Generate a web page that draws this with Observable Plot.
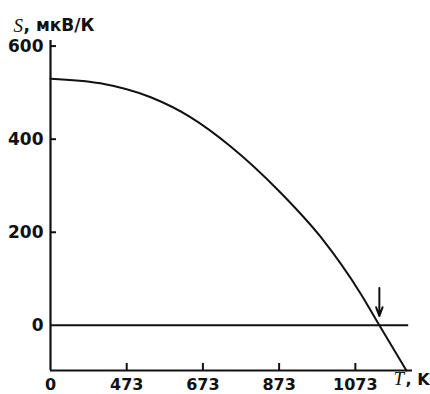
<!DOCTYPE html>
<html><head><meta charset="utf-8">
<script src="https://cdn.jsdelivr.net/npm/d3@7"></script>
<script src="https://cdn.jsdelivr.net/npm/@observablehq/plot@0.6"></script>
<style>body{margin:0;background:#fff} svg{display:block}</style>
</head><body><div id="chart"></div>
<script>
// Seebeck coefficient S (µV/K) vs temperature T (K)
const temperatureK = [273, 404, 536, 641, 745, 877, 982, 1087, 1136, 1207];
const seebeck = [530, 520, 490, 447, 385, 285, 190, 68, 0, -97];
const xTickValues = [273, 473, 673, 873, 1073];
const xTickLabels = ["0", "473", "673", "873", "1073"];
const xInnerTicks = [473, 673, 873, 1073];
const yTickValues = [0, 200, 400, 600];
const yInnerTicks = [200, 400, 600];
const xDomain = [273, 1223];
const yDomain = [-97, 612];
const zeroLineEnd = [1213];
const arrowT = [1136];
const arrowFromTo = [80, 20];

const data = temperatureK.map((t, i) => ({t, s: seebeck[i]}));
const W = 430, H = 394, mL = 50, mR = 18, mT = 40, mB = 24;
const ink = "#111";
const sans = "DejaVu Sans";

const chart = Plot.plot({
  width: W, height: H,
  marginLeft: mL, marginRight: mR, marginTop: mT, marginBottom: mB,
  style: {fontFamily: sans, fontSize: "17px", fontWeight: "bold", color: ink, background: "#fff", overflow: "visible"},
  x: {domain: xDomain},
  y: {domain: yDomain},
  marks: [
    Plot.axisX(xTickValues, {tickSize: 0, tickPadding: 8, fontSize: 16, tickFormat: d => xTickLabels[xTickValues.indexOf(d)], label: null, fill: ink}),
    Plot.axisY(yTickValues, {tickSize: 0, tickPadding: 7, label: null, fill: ink}),
    Plot.tickY(yInnerTicks, {y: d => d, insetRight: W - mL - mR - 6, stroke: ink, strokeWidth: 2}),
    Plot.tickX(xInnerTicks, {x: d => d, insetTop: H - mT - mB - 7, stroke: ink, strokeWidth: 2}),
    Plot.ruleX([xDomain[0]], {y1: yDomain[0], y2: yDomain[1], stroke: ink, strokeWidth: 2.2}),
    Plot.ruleY([yDomain[0]], {x1: xDomain[0], x2: xDomain[1], stroke: ink, strokeWidth: 2.2}),
    Plot.ruleY([0], {x1: xDomain[0], x2: zeroLineEnd[0], stroke: ink, strokeWidth: 2}),
    Plot.line(data, {x: "t", y: "s", curve: "monotone-x", stroke: ink, strokeWidth: 2}),
    Plot.arrow(arrowT, {x1: d => d, x2: d => d, y1: arrowFromTo[0], y2: arrowFromTo[1], stroke: ink, strokeWidth: 2, headLength: 9, headAngle: 40}),
    Plot.text(["S"], {frameAnchor: "top-left", dx: -37, dy: -22, textAnchor: "start", fontFamily: "Liberation Serif", fontStyle: "italic", fontWeight: "normal", fontSize: 19, fill: ink}),
    Plot.text([", мкВ/К"], {frameAnchor: "top-left", dx: -27, dy: -22, textAnchor: "start", fill: ink}),
    Plot.text(["T"], {frameAnchor: "bottom-right", dx: -19, dy: 14, textAnchor: "start", fontFamily: "Liberation Serif", fontStyle: "italic", fontWeight: "normal", fontSize: 19, fill: ink}),
    Plot.text([", K"], {frameAnchor: "bottom-right", dx: -7, dy: 14, textAnchor: "start", fontSize: 16, fill: ink})
  ]
});
document.getElementById("chart").append(chart);
</script>
</body></html>
